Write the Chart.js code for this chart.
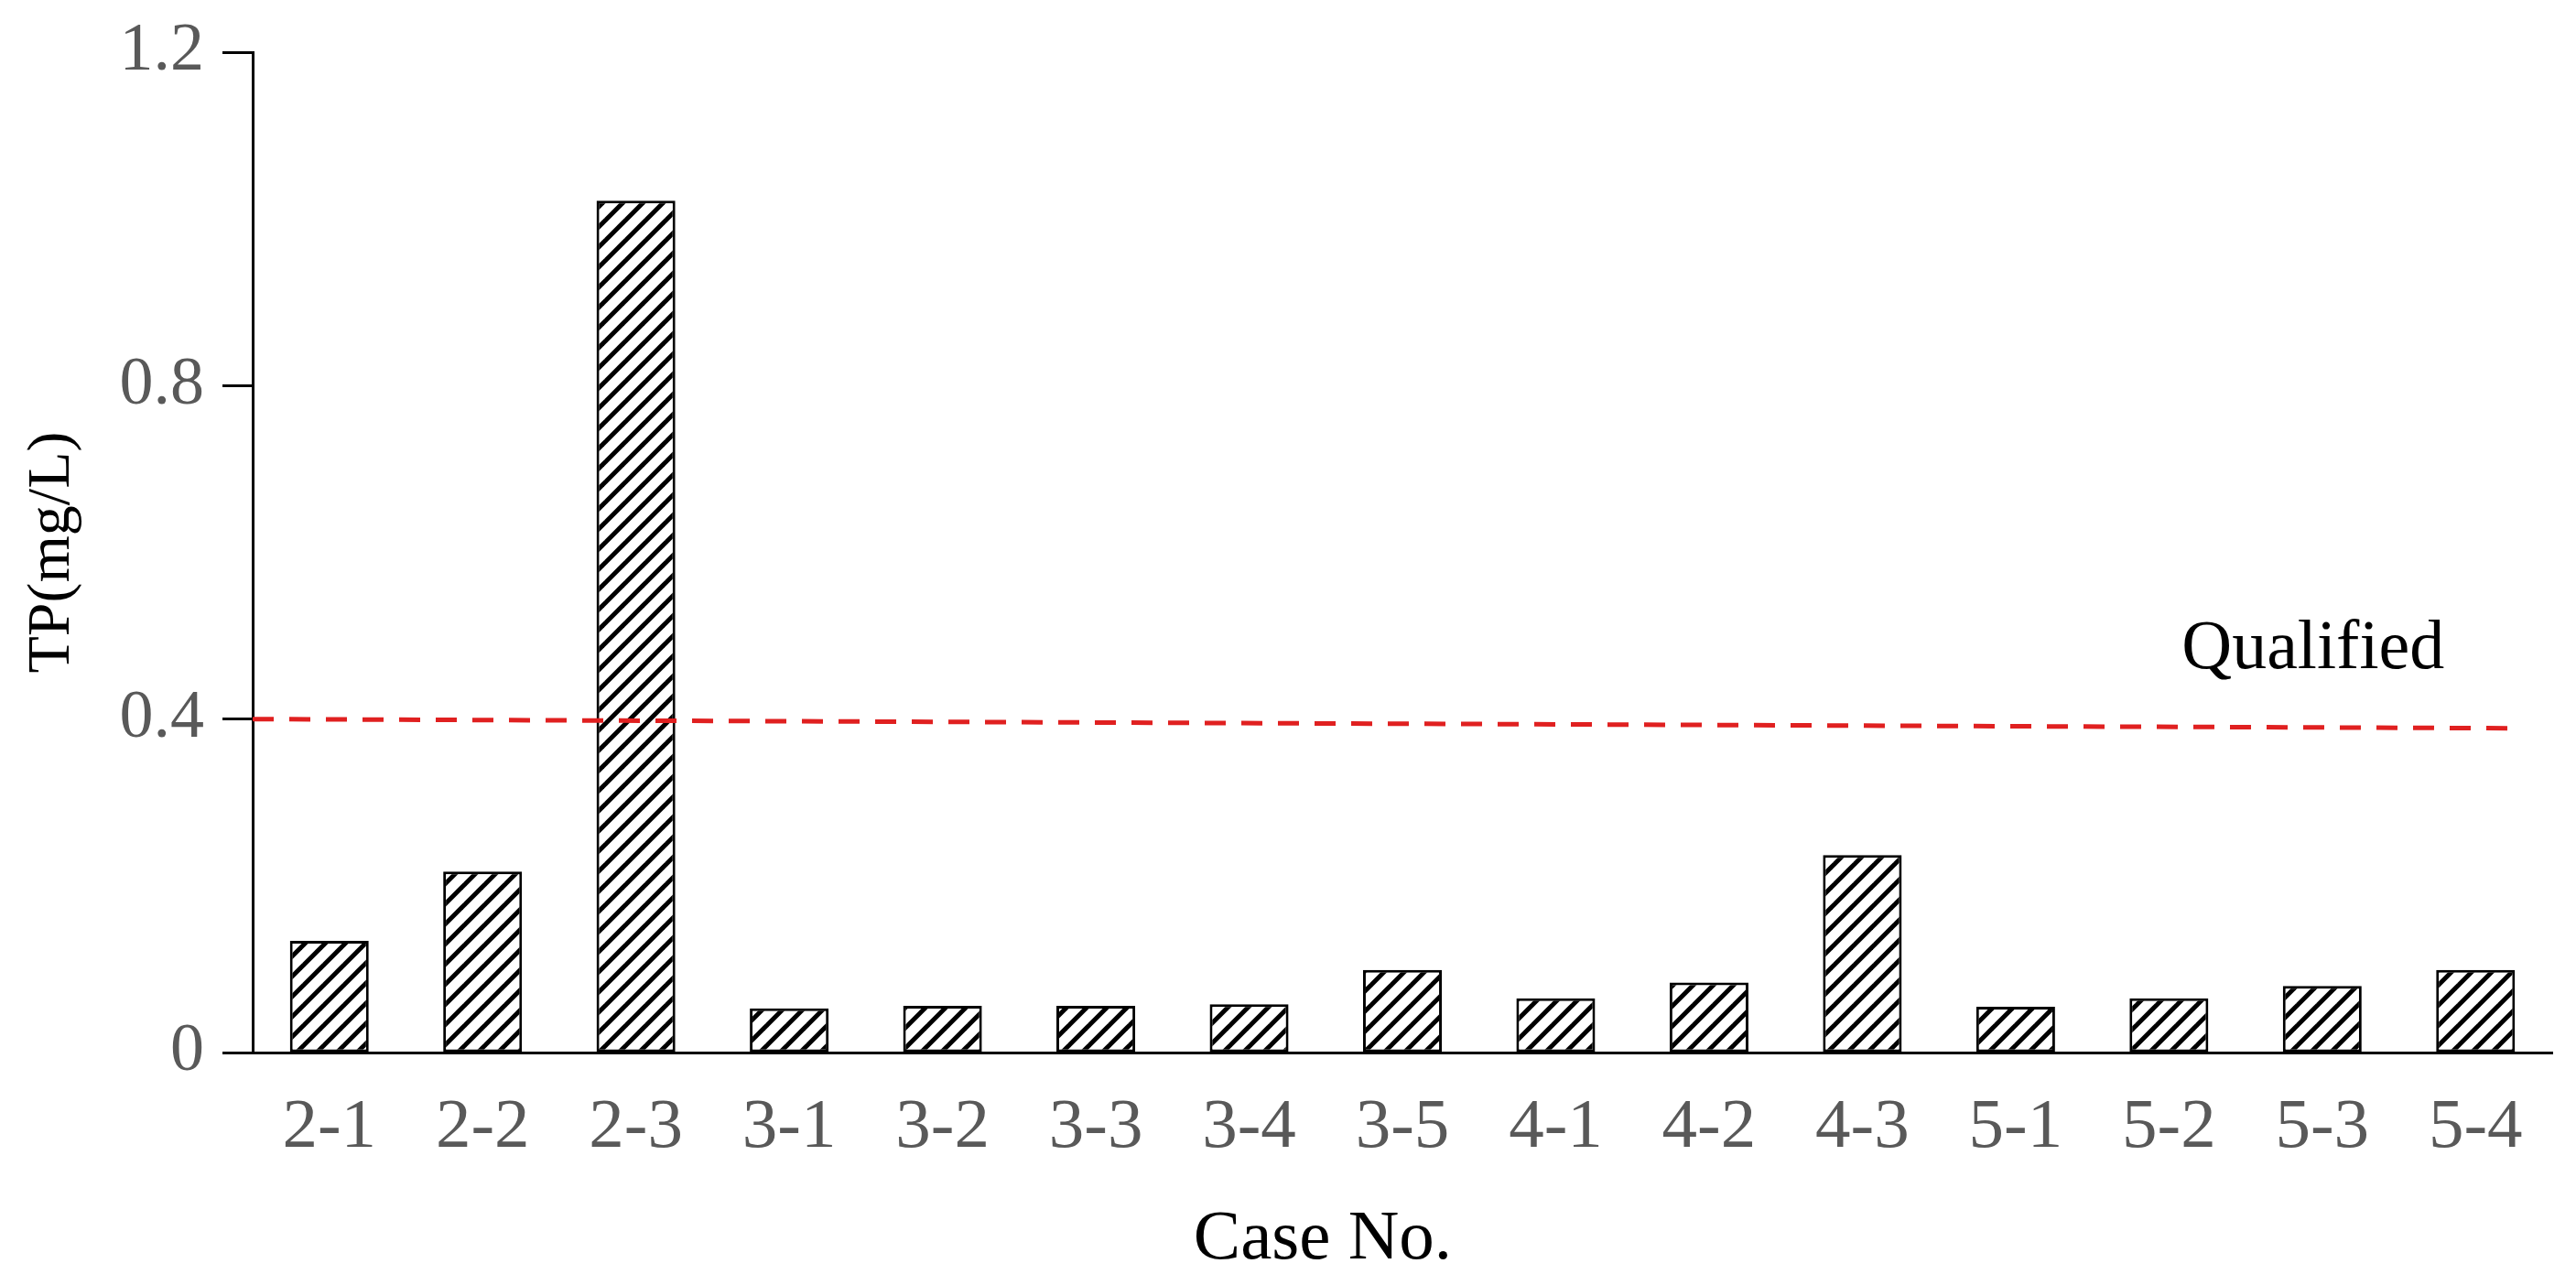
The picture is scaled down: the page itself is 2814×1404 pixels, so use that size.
<!DOCTYPE html>
<html>
<head>
<meta charset="utf-8">
<title>TP by case</title>
<script src="https://cdn.jsdelivr.net/npm/chart.js@4.4.1/dist/chart.umd.min.js"></script>
<style>
  html, body { margin: 0; padding: 0; background: #fff; }
  #wrap { width: 2814px; height: 1404px; }
</style>
</head>
<body>
<div id="wrap"><canvas id="tpChart" width="2814" height="1404"></canvas></div>
<script>
/* ── Data ── */
const cases    = ['2-1', '2-2', '2-3', '3-1', '3-2', '3-3', '3-4', '3-5', '4-1', '4-2', '4-3', '5-1', '5-2', '5-3', '5-4'];
const tpValues = [0.134, 0.217, 1.022, 0.053, 0.056, 0.056, 0.058, 0.099, 0.065, 0.084, 0.237, 0.055, 0.065, 0.080, 0.099];
const yTicks   = [0, 0.4, 0.8, 1.2];
// qualified limit: both ends of the dashed line (case position, TP)
const limitX   = [-0.5, 14.23];
const limitY   = [0.400, 0.389];

const FONT = '"Liberation Serif", "Times New Roman", serif';

/* ── Hatch fill for the bars (45° "/" stripes) ── */
function makeHatch() {
  const w = 22, h = 22;
  const c = document.createElement('canvas');
  c.width = w; c.height = h;
  const g = c.getContext('2d');
  g.fillStyle = '#fff';
  g.fillRect(0, 0, w, h);
  g.strokeStyle = '#000';
  g.lineWidth = 5;
  for (let k = -1; k <= 1; k++) {
    g.beginPath();
    g.moveTo(-w, 2 * h + k * h);
    g.lineTo(2 * w, -h + k * h);
    g.stroke();
  }
  return g.createPattern(c, 'repeat');
}

/* ── Text notes (limit label, x title) ── */
const notes = {
  id: 'notes',
  afterDatasetsDraw(chart) {
    const { ctx, scales: { xl, y } } = chart;
    ctx.save();
    ctx.fillStyle = '#000';
    ctx.textAlign = 'center';
    ctx.textBaseline = 'alphabetic';
    ctx.font = '76px ' + FONT;
    ctx.fillText('Qualified', xl.getPixelForValue(12.94), y.getPixelForValue(0.461));
    ctx.font = '77px ' + FONT;
    ctx.fillText('Case No.', xl.getPixelForValue(6.48), 1375);
    ctx.restore();
  }
};

const noPad = s => { s.paddingTop = 0; s.paddingBottom = 0; s.paddingLeft = 0; s.paddingRight = 0; };

const ctx = document.getElementById('tpChart').getContext('2d');
new Chart(ctx, {
  type: 'bar',
  data: {
    labels: cases,
    datasets: [
      {
        type: 'line',
        xAxisID: 'xl',
        yAxisID: 'y',
        data: limitX.map((x, i) => ({ x, y: limitY[i] })),
        borderColor: '#e02020',
        borderWidth: 5,
        borderDash: [23, 17],
        pointRadius: 0,
        fill: false,
        order: 0,
      },
      {
        xAxisID: 'x',
        yAxisID: 'y',
        data: tpValues,
        backgroundColor: makeHatch(),
        borderColor: '#000',
        borderWidth: 3,
        borderSkipped: false,
        grouped: false,
        categoryPercentage: 1,
        barPercentage: 0.514,
        order: 1,
      },
    ],
  },
  options: {
    responsive: false,
    animation: false,
    devicePixelRatio: 1,
    layout: { padding: { left: 0, right: 26, top: 57, bottom: 0 } },
    plugins: { legend: { display: false }, tooltip: { enabled: false } },
    scales: {
      x: {
        type: 'category',
        offset: true,
        grid: { display: false },
        border: { display: true, color: '#000', width: 3 },
        ticks: { color: '#595959', font: { family: FONT, size: 77 }, padding: 29, maxRotation: 0 },
        afterFit: s => { s.height = 254; noPad(s); },
      },
      xl: {
        type: 'linear',
        display: false,
        offset: false,
        grid: { offset: false },
        min: -0.5,
        max: 14.5,
      },
      y: {
        min: 0,
        max: 1.2,
        afterBuildTicks: s => { s.ticks = yTicks.map(v => ({ value: v })); },
        grid: { drawOnChartArea: false, drawTicks: true, tickLength: 33, tickWidth: 3, tickColor: '#000' },
        border: { display: true, color: '#000', width: 3 },
        ticks: {
          color: '#595959',
          font: { family: FONT, size: 74 },
          padding: 20,
          callback: v => (v === 0 ? '0' : v.toFixed(1)),
        },
        title: { display: true, text: 'TP(mg/L)', color: '#000', font: { family: FONT, size: 66 }, padding: { top: 18, bottom: 0 } },
        afterFit: s => { s.width = 276; noPad(s); },
      },
    },
  },
  plugins: [notes],
});
</script>
</body>
</html>
